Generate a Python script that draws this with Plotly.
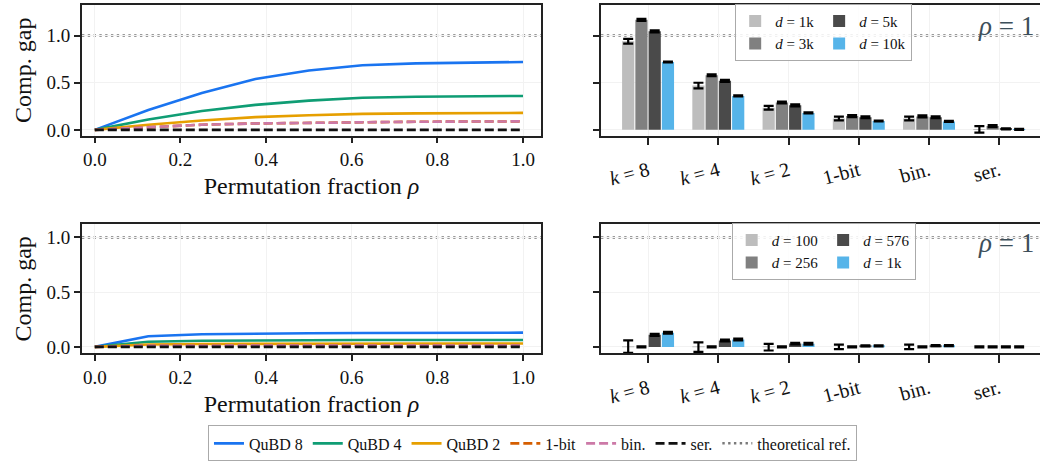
import plotly.graph_objects as go
from plotly.subplots import make_subplots

# ---------------- data ----------------
RHO = [0.0, 0.125, 0.25, 0.375, 0.5, 0.625, 0.75, 0.875, 1.0]

TOP_QUBD8 = [0.0, 0.21, 0.39, 0.54, 0.63, 0.685, 0.705, 0.715, 0.72]
TOP_QUBD4 = [0.0, 0.11, 0.20, 0.265, 0.31, 0.34, 0.352, 0.357, 0.36]
TOP_QUBD2 = [0.0, 0.055, 0.10, 0.135, 0.155, 0.17, 0.175, 0.178, 0.18]
TOP_1BIT = [0.0, 0.03, 0.055, 0.068, 0.076, 0.082, 0.086, 0.088, 0.09]
TOP_BIN = [0.0, 0.03, 0.055, 0.068, 0.076, 0.082, 0.086, 0.088, 0.09]
TOP_SER = [0.0, 0.0, 0.0, 0.0, 0.0, 0.0, 0.0, 0.0, 0.0]

BOT_QUBD8 = [0.0, 0.097, 0.115, 0.122, 0.125, 0.127, 0.128, 0.129, 0.13]
BOT_QUBD4 = [0.0, 0.047, 0.056, 0.06, 0.062, 0.063, 0.063, 0.063, 0.063]
BOT_QUBD2 = [0.0, 0.022, 0.027, 0.029, 0.03, 0.031, 0.031, 0.031, 0.031]
BOT_1BIT = [0.0, 0.01, 0.011, 0.012, 0.012, 0.013, 0.013, 0.013, 0.013]
BOT_BIN = [0.0, 0.01, 0.011, 0.012, 0.012, 0.013, 0.013, 0.013, 0.013]
BOT_SER = [0.0, 0.0, 0.0, 0.0, 0.0, 0.0, 0.0, 0.0, 0.0]

THEORETICAL_REF = 1.0

CATEGORIES = ["<i>k</i> = 8", "<i>k</i> = 4", "<i>k</i> = 2", "1-bit", "bin.", "ser."]

TOP_DIMS = ["1k", "3k", "5k", "10k"]
TOP_BARS = [
    [0.94, 0.47, 0.235, 0.12, 0.12, 0.005],
    [1.167, 0.58, 0.29, 0.146, 0.143, 0.04],
    [1.045, 0.52, 0.26, 0.133, 0.133, 0.01],
    [0.72, 0.36, 0.18, 0.094, 0.09, 0.005],
]
TOP_ERRS = [
    [0.025, 0.03, 0.02, 0.02, 0.02, 0.035],
    [0.01, 0.01, 0.01, 0.01, 0.01, 0.01],
    [0.01, 0.01, 0.01, 0.01, 0.01, 0.005],
    [0.005, 0.005, 0.005, 0.005, 0.005, 0.005],
]

BOT_DIMS = ["100", "256", "576", "1k"]
BOT_BARS = [
    [0.003, -0.002, -0.003, 0.0, 0.0, 0.0],
    [0.0, 0.0, 0.0, 0.0, 0.0, 0.0],
    [0.11, 0.058, 0.03, 0.01, 0.012, 0.0],
    [0.13, 0.067, 0.028, 0.01, 0.012, 0.0],
]
BOT_ERRS = [
    [0.057, 0.044, 0.03, 0.02, 0.02, 0.005],
    [0.005, 0.005, 0.005, 0.005, 0.005, 0.005],
    [0.01, 0.008, 0.008, 0.005, 0.005, 0.005],
    [0.008, 0.008, 0.008, 0.005, 0.005, 0.005],
]

# ---------------- styles ----------------
LINE_NAMES = ["QuBD 8", "QuBD 4", "QuBD 2", "1-bit", "bin.", "ser."]
LINE_COLORS = ["#1a74f0", "#0f9d74", "#e69f00", "#d55e00", "#cc79a7", "#111111"]
LINE_DASH = ["solid", "solid", "solid", "9px,4px", "9px,4px", "9px,4px"]
BAR_COLORS = ["#bdbdbd", "#808080", "#4a4a4a", "#56b4e9"]
LEGEND_RANK = [1, 3, 2, 4]          # column-major layout like matplotlib ncol=2
LEGEND_GROUP = ["c1", "c1", "c2", "c2"]

FONT = "Liberation Serif"
TICK_FONT = dict(family=FONT, size=19, color="#111111")
BAR_TICK_FONT = dict(family=FONT, size=20, color="#111111")
TITLE_FONT = dict(family=FONT, size=24, color="#111111")

fig = make_subplots(rows=2, cols=2)

top_lines = [TOP_QUBD8, TOP_QUBD4, TOP_QUBD2, TOP_1BIT, TOP_BIN, TOP_SER]
bot_lines = [BOT_QUBD8, BOT_QUBD4, BOT_QUBD2, BOT_1BIT, BOT_BIN, BOT_SER]

for i, name in enumerate(LINE_NAMES):
    fig.add_trace(go.Scatter(x=RHO, y=top_lines[i], mode="lines", name=name,
                             line=dict(color=LINE_COLORS[i], width=2.6, dash=LINE_DASH[i]),
                             legend="legend", legendrank=i + 1, showlegend=True),
                  row=1, col=1)
    fig.add_trace(go.Scatter(x=RHO, y=bot_lines[i], mode="lines", name=name,
                             line=dict(color=LINE_COLORS[i], width=2.6, dash=LINE_DASH[i]),
                             showlegend=False),
                  row=2, col=1)

for j in range(4):
    fig.add_trace(go.Bar(x=CATEGORIES, y=TOP_BARS[j], name=f"<i>d</i> = {TOP_DIMS[j]}",
                         marker=dict(color=BAR_COLORS[j], line=dict(width=0)),
                         error_y=dict(type="data", array=TOP_ERRS[j], color="black",
                                      thickness=2.2, width=5),
                         legend="legend2", legendrank=LEGEND_RANK[j],
                         legendgroup="t" + LEGEND_GROUP[j]),
                  row=1, col=2)
    fig.add_trace(go.Bar(x=CATEGORIES, y=BOT_BARS[j], name=f"<i>d</i> = {BOT_DIMS[j]}",
                         marker=dict(color=BAR_COLORS[j], line=dict(width=0)),
                         error_y=dict(type="data", array=BOT_ERRS[j], color="black",
                                      thickness=2.2, width=5),
                         legend="legend3", legendrank=LEGEND_RANK[j],
                         legendgroup="b" + LEGEND_GROUP[j]),
                  row=2, col=2)

# theoretical reference (dotted line across every panel)
for k, (xr, yr) in enumerate([("x", "y"), ("x2", "y2"), ("x3", "y3"), ("x4", "y4")]):
    fig.add_shape(type="line", xref=f"{xr} domain", yref=yr, x0=0, x1=1,
                  y0=THEORETICAL_REF, y1=THEORETICAL_REF,
                  line=dict(color="#7a7a7a", width=2.5, dash="2.4px,3.4px"),
                  layer="below",
                  name="theoretical ref.", showlegend=(k == 0), legend="legend",
                  legendrank=7)

XL = [0.0788, 0.5202]
XR = [0.5779, 1.0]
YT = [0.7054, 0.9892]
YB = [0.2316, 0.5125]

common_axis = dict(showline=True, linecolor="#222222", linewidth=1.8,
                   ticks="outside", ticklen=6, tickwidth=1.8, tickcolor="#222222",
                   tickfont=TICK_FONT, showgrid=True, gridcolor="#f2f2f2", gridwidth=1,
                   zeroline=False)

line_x = dict(common_axis, mirror=True, range=[-0.03, 1.042], tickvals=[0, 0.2, 0.4, 0.6, 0.8, 1.0],
              tickformat=".1f",
              title=dict(text="Permutation fraction <i>ρ</i>", font=TITLE_FONT, standoff=8))
bar_x = dict(common_axis, mirror=True, range=[-0.67, 5.58], tickangle=-15, ticklen=8,
             tickfont=BAR_TICK_FONT, ticklabelstandoff=6)

legend_small = dict(orientation="h", xanchor="center", yanchor="middle",
                    traceorder="grouped", bgcolor="rgba(255,255,255,0.85)",
                    bordercolor="#aaaaaa", borderwidth=1,
                    font=dict(family=FONT, size=15), itemwidth=30, tracegroupgap=0)

fig.update_layout(
    xaxis=dict(line_x, domain=XL, anchor="y"),
    xaxis3=dict(line_x, domain=XL, anchor="y3"),
    xaxis2=dict(bar_x, domain=XR, anchor="y2"),
    xaxis4=dict(bar_x, domain=XR, anchor="y4"),
    yaxis=dict(common_axis, mirror=True, domain=YT, range=[-0.06, 1.325], tickvals=[0, 0.5, 1.0],
               tickformat=".1f", title=dict(text="Comp. gap", font=TITLE_FONT, standoff=8)),
    yaxis3=dict(common_axis, mirror=True, domain=YB, range=[-0.06, 1.12], tickvals=[0, 0.5, 1.0],
                tickformat=".1f", title=dict(text="Comp. gap", font=TITLE_FONT, standoff=8)),
    yaxis2=dict(common_axis, domain=YT, range=[-0.06, 1.325], tickvals=[0, 0.5, 1.0],
                showticklabels=False),
    yaxis4=dict(common_axis, domain=YB, range=[-0.06, 1.12], tickvals=[0, 0.5, 1.0],
                showticklabels=False),
    barmode="group", bargap=0.245, bargroupgap=0.08,
    width=1040, height=465,
    margin=dict(l=0, r=0, t=0, b=0),
    paper_bgcolor="white", plot_bgcolor="white",
    font=dict(family=FONT, color="#111111"),
    legend=dict(orientation="h", x=0.512, y=0.036, xanchor="center", yanchor="middle",
                bgcolor="white", bordercolor="#aaaaaa", borderwidth=1,
                font=dict(family=FONT, size=16), itemwidth=30, tracegroupgap=0),
    legend2=dict(legend_small, x=0.792, y=0.930),
    legend3=dict(legend_small, x=0.792, y=0.454),
    annotations=[
        dict(text="<i>ρ</i> = 1", xref="x2 domain", yref="y2 domain", x=0.99, y=0.84,
             xanchor="right", yanchor="middle", showarrow=False,
             font=dict(family=FONT, size=27, color="#3d4f5a")),
        dict(text="<i>ρ</i> = 1", xref="x4 domain", yref="y4 domain", x=0.99, y=0.855,
             xanchor="right", yanchor="middle", showarrow=False,
             font=dict(family=FONT, size=27, color="#3d4f5a")),
    ],
)

fig.write_html("out.html")
